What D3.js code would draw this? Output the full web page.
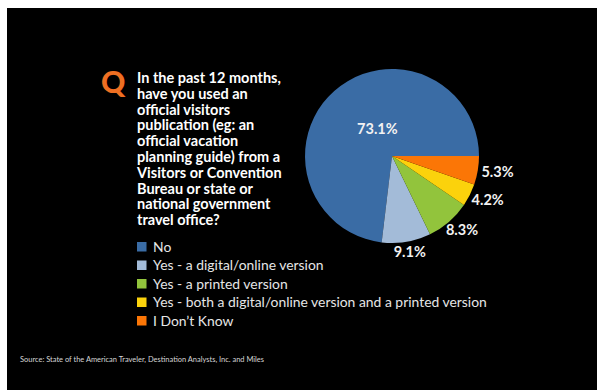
<!DOCTYPE html>
<html>
<head>
<meta charset="utf-8">
<script src="https://cdn.jsdelivr.net/npm/d3@7"></script>
<style>
  body { margin: 0; background: #fff; }
  svg { display: block; font-family: Lato, "Open Sans", sans-serif; }
</style>
</head>
<body>
<div id="chart"></div>
<script>
var categories = ['No', 'Yes - a digital/online version', 'Yes - a printed version',
                  'Yes - both a digital/online version and a printed version', "I Don\u2019t Know"];
var shares = [73.1, 9.1, 8.3, 4.2, 5.3];
var sliceColors = ['#3a6ca5', '#a3bbd8', '#92c43c', '#fbd20c', '#fb7606'];
var questionLines = ['In the past 12 months,', 'have you used an', 'official visitors',
                     'publication (eg: an', 'official vacation', 'planning guide) from a',
                     'Visitors or Convention', 'Bureau or state or', 'national government',
                     'travel office?'];
var sourceNote = 'Source: State of the American Traveler,  Destination Analysts, Inc. and Miles';

var width = 597, height = 390;
var svg = d3.select('#chart').append('svg')
    .attr('width', width)
    .attr('height', height);

// black panel
svg.append('rect')
    .attr('x', 7).attr('y', 8)
    .attr('width', width - 7).attr('height', height - 8)
    .attr('fill', '#000');

// pie
var cx = 392, cy = 156, r = 87;
var pie = d3.pie().sort(null)
    .startAngle(Math.PI / 2)
    .endAngle(Math.PI / 2 - 2 * Math.PI)
    .value(function(d) { return d; });
var arcs = pie(shares);
var arc = d3.arc().innerRadius(0).outerRadius(r);
var innerLabelArc = d3.arc().innerRadius(0).outerRadius(r * 0.75);

var g = svg.append('g').attr('transform', 'translate(' + cx + ',' + cy + ')');
g.selectAll('path.slice')
    .data(arcs)
    .enter().append('path')
    .attr('class', 'slice')
    .attr('d', arc)
    .attr('fill', function(d, i) { return sliceColors[i]; });

g.selectAll('text.pct')
    .data(arcs)
    .enter().append('text')
    .attr('class', 'pct')
    .attr('text-anchor', 'middle')
    .attr('dy', '0.36em')
    .attr('fill', '#f2f2f2')
    .attr('font-weight', 700)
    .attr('font-size', 14.5)
    .attr('transform', function(d, i) {
        if (i === 0) {
            var c = innerLabelArc.centroid(d);
            return 'translate(' + (c[0] + 7) + ',' + (c[1] - 3) + ')';
        }
        var a = (d.startAngle + d.endAngle) / 2;
        var dx = Math.sin(a), dy = -Math.cos(a);
        var R = r + 4, w = 32, h = 12;
        return 'translate(' + (dx * R + dx * w / 2) + ',' + (dy * R + dy * h / 2) + ')';
    })
    .text(function(d) { return d.data.toFixed(1) + '%'; });

// question
svg.append('text')
    .attr('x', 101).attr('y', 93)
    .attr('fill', '#ee6f22')
    .attr('font-weight', 900)
    .attr('font-size', 30)
    .text('Q');

svg.append('g').selectAll('text')
    .data(questionLines)
    .enter().append('text')
    .attr('x', 137)
    .attr('y', function(d, i) { return 83 + i * 15.8; })
    .attr('fill', '#fff')
    .attr('font-weight', 700)
    .attr('font-size', 14.5)
    .text(function(d) { return d; });

// legend
var legend = svg.append('g').attr('transform', 'translate(137,247)');
var rows = legend.selectAll('g')
    .data(categories)
    .enter().append('g')
    .attr('transform', function(d, i) { return 'translate(0,' + (i * 18.5) + ')'; });
rows.append('rect')
    .attr('x', 0).attr('y', -5)
    .attr('width', 9.5).attr('height', 9.5)
    .attr('fill', function(d, i) { return sliceColors[i]; });
rows.append('text')
    .attr('x', 16)
    .attr('dy', '0.35em')
    .attr('fill', '#e6e6e6')
    .attr('font-size', 13.9)
    .text(function(d) { return d; });

// source
svg.append('text')
    .attr('x', 20).attr('y', 362)
    .attr('fill', '#d6d6d6')
    .attr('font-size', 7)
    .attr('textLength', 244)
    .attr('lengthAdjust', 'spacingAndGlyphs')
    .text(sourceNote);
</script>
</body>
</html>
